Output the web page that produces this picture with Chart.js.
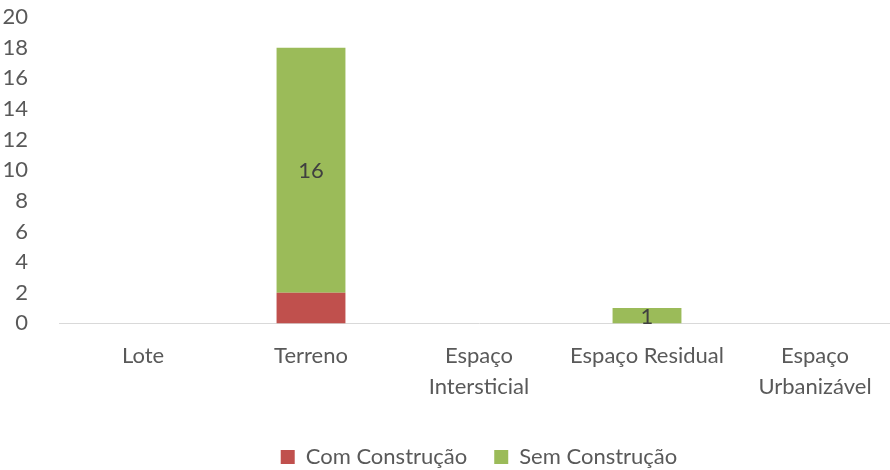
<!DOCTYPE html>
<html>
<head>
<meta charset="utf-8">
<script src="https://cdn.jsdelivr.net/npm/chart.js@4"></script>
<style>
  body { margin: 0; background: #fff; }
  /* o gráfico original está cortado à direita, por isso o canvas é um pouco maior */
  #wrap { width: 890px; height: 470px; overflow: hidden; }
</style>
</head>
<body>
<div id="wrap"><canvas id="chart" width="899" height="478"></canvas></div>
<script>
// categorias e valores
const categories = ["Lote", "Terreno", ["Espaço", "Intersticial"], "Espaço Residual", ["Espaço", "Urbanizável"]];
const comConstrucao = [0, 2, 0, 0, 0];
const semConstrucao = [0, 16, 0, 1, 0];
const yTicks = [0, 2, 4, 6, 8, 10, 12, 14, 16, 18, 20];

const textColor = "#595959";
const fontFamily = "Lato, 'Open Sans', sans-serif";

// rótulos de valor só na série verde (como no original)
const valueLabels = {
  id: "valueLabels",
  afterDatasetsDraw(chart) {
    const ctx = chart.ctx;
    const meta = chart.getDatasetMeta(1);
    ctx.save();
    ctx.fillStyle = "#404040";
    ctx.font = "22px " + fontFamily;
    ctx.textAlign = "center";
    ctx.textBaseline = "middle";
    meta.data.forEach((bar, i) => {
      const v = semConstrucao[i];
      if (!v) return;
      const p = bar.getProps(["x", "y", "base"], true);
      ctx.fillText(String(v), p.x, (p.y + p.base) / 2 + 1);
    });
    ctx.restore();
  },
};

new Chart(document.getElementById("chart"), {
  type: "bar",
  data: {
    labels: categories,
    datasets: [
      {
        label: "Com Construção",
        data: comConstrucao,
        backgroundColor: "#C0504D",
        categoryPercentage: 1,
        barPercentage: 0.41,
      },
      {
        label: "Sem Construção",
        data: semConstrucao,
        backgroundColor: "#9BBB59",
        categoryPercentage: 1,
        barPercentage: 0.41,
      },
    ],
  },
  options: {
    responsive: false,
    animation: false,
    layout: { padding: { top: 17, right: 0, left: 0, bottom: 0 } },
    scales: {
      x: {
        stacked: true,
        grid: { display: false },
        border: { color: "#d9d9d9", width: 1 },
        afterFit(axis) {
          axis.height += 8;
        },
        ticks: {
          color: textColor,
          font: { size: 22, family: fontFamily, lineHeight: 1.4 },
          padding: 9,
          maxRotation: 0,
          autoSkip: false,
        },
      },
      y: {
        stacked: true,
        min: 0,
        max: 20,
        grid: { display: false },
        border: { display: false },
        afterBuildTicks(axis) {
          axis.ticks = yTicks.map((v) => ({ value: v }));
        },
        afterFit(axis) {
          axis.width = 59;
          axis.paddingTop = 0;
          axis.paddingBottom = 0;
        },
        ticks: {
          color: textColor,
          font: { size: 22, family: fontFamily },
          padding: 23,
          autoSkip: false,
        },
      },
    },
    plugins: {
      legend: {
        position: "bottom",
        fullSize: false,
        labels: {
          color: textColor,
          font: { size: 22, family: fontFamily },
          boxWidth: 14,
          boxHeight: 14,
          padding: 27,
        },
      },
      tooltip: { enabled: false },
    },
  },
  plugins: [valueLabels],
});
</script>
</body>
</html>
